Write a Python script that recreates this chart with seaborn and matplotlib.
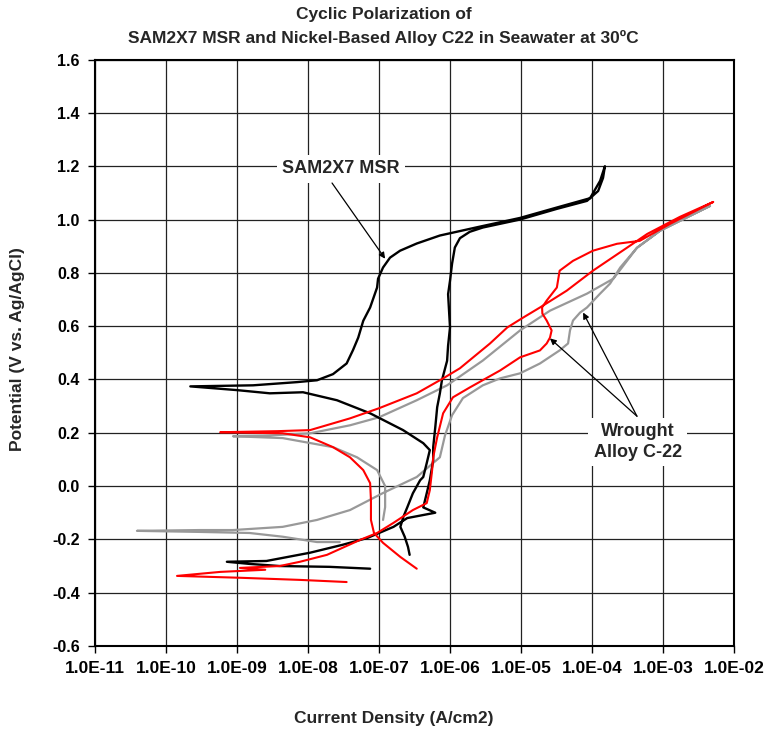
import matplotlib
matplotlib.use("Agg")
import matplotlib.pyplot as plt
import seaborn as sns
from matplotlib.ticker import FixedLocator, FixedFormatter, NullLocator

# ---- SAM2X7 MSR: forward scan then reverse scan (A/cm2, V vs Ag/AgCl) ----
sam_current = [
    7.5e-8, 2.0e-8, 4.0e-9, 1.5e-9, 7.2e-10, 2.6e-9, 1.07e-8, 3.1e-8, 6.8e-8, 1.6e-7,
    2.5e-7, 6.2e-7, 4.2e-7, 4.7e-7, 5.2e-7, 5.8e-7, 5.8e-7, 6.2e-7, 6.6e-7, 7.2e-7,
    7.7e-7, 9.1e-7, 9.4e-7, 1.0e-6, 9.4e-7, 1.0e-6, 1.07e-6, 1.17e-6, 1.38e-6, 1.9e-6,
    2.9e-6, 9.7e-6, 3.2e-5, 8.5e-5, 1.22e-4, 1.43e-4, 1.52e-4,
    1.3e-4, 9.4e-5, 3.5e-5, 9.7e-6, 2.6e-6, 7.2e-7, 3.4e-7, 1.98e-7, 1.43e-7, 1.14e-7,
    9.7e-8, 9.4e-8, 7.5e-8, 6.0e-8, 5.1e-8, 4.3e-8, 3.5e-8, 2.25e-8, 1.34e-8, 7.0e-9,
    1.68e-9, 2.2e-10, 1.0e-9, 2.9e-9, 8.5e-9, 2.56e-8, 7.5e-8, 2.18e-7, 4.2e-7, 5.2e-7,
    4.7e-7, 4.2e-7, 3.8e-7, 3.0e-7, 2.5e-7, 2.2e-7, 2.0e-7, 2.3e-7, 2.56e-7, 2.7e-7,
]
sam_potential = [
    -0.31, -0.303, -0.30, -0.292, -0.284, -0.281, -0.25, -0.22, -0.195, -0.153,
    -0.12, -0.10, -0.08, -0.027, 0.022, 0.097, 0.146, 0.22, 0.296, 0.348,
    0.397, 0.47, 0.527, 0.595, 0.72, 0.77, 0.835, 0.895, 0.93, 0.954,
    0.97, 1.0, 1.04, 1.07, 1.107, 1.156, 1.20,
    1.145, 1.08, 1.048, 1.006, 0.973, 0.94, 0.91, 0.883, 0.857, 0.82,
    0.778, 0.745, 0.67, 0.62, 0.557, 0.51, 0.46, 0.42, 0.397, 0.39,
    0.378, 0.374, 0.36, 0.348, 0.352, 0.322, 0.273, 0.21, 0.161, 0.135,
    0.086, 0.034, 0.022, -0.027, -0.08, -0.116, -0.153, -0.19, -0.228, -0.258,
]

# ---- Wrought Alloy C-22, test 1 (red) ----
c22a_current = [
    3.5e-8, 7.7e-9, 1.1e-9, 1.43e-10, 5.8e-10, 2.5e-9, 1.1e-9, 4.0e-9, 7.7e-9, 1.85e-8,
    5.4e-8, 9.4e-8, 1.6e-7, 3.0e-7, 4.7e-7, 5.2e-7, 5.6e-7, 5.8e-7, 6.6e-7, 8.0e-7,
    1.1e-6, 1.9e-6, 5.1e-6, 9.7e-6, 1.85e-5, 2.3e-5, 2.56e-5, 2.7e-5, 2.3e-5, 2.0e-5,
    1.98e-5, 2.3e-5, 3.2e-5, 3.5e-5, 5.4e-5, 1.03e-4, 2.25e-4, 4.7e-4, 1.26e-3, 5.1e-3,
    1.73e-3, 6.0e-4, 3.1e-4, 1.03e-4, 4.4e-5, 1.85e-5, 1.07e-5, 6.4e-6, 3.66e-6, 1.38e-6,
    8.0e-7, 3.4e-7, 1.0e-7, 3.9e-8, 1.07e-8, 3.7e-9, 5.8e-10, 4.4e-9, 1.07e-8, 2.25e-8,
    3.9e-8, 6.0e-8, 7.5e-8, 7.7e-8, 7.7e-8, 8.5e-8, 1.14e-7, 2.0e-7, 3.4e-7,
]
c22a_potential = [
    -0.36, -0.352, -0.344, -0.337, -0.322, -0.314, -0.307, -0.30, -0.284, -0.258,
    -0.202, -0.176, -0.138, -0.09, -0.064, -0.015, 0.06, 0.108, 0.183, 0.273,
    0.333, 0.37, 0.434, 0.483, 0.509, 0.535, 0.557, 0.584, 0.621, 0.647,
    0.67, 0.696, 0.745, 0.808, 0.845, 0.883, 0.909, 0.92, 0.984, 1.066,
    1.01, 0.946, 0.894, 0.808, 0.733, 0.67, 0.632, 0.595, 0.535, 0.442,
    0.404, 0.348, 0.292, 0.254, 0.21, 0.206, 0.202, 0.198, 0.183, 0.146,
    0.108, 0.06, 0.011, -0.052, -0.127, -0.176, -0.213, -0.266, -0.31,
]

# ---- Wrought Alloy C-22, test 2 (grey) ----
c22b_current = [
    2.8e-8, 1.34e-8, 4.4e-9, 1.5e-9, 3.0e-10, 3.9e-11, 3.0e-10, 8.8e-10, 4.4e-9, 1.34e-8,
    3.9e-8, 1.14e-7, 3.4e-7, 7.2e-7, 8.5e-7, 1.07e-6, 1.52e-6, 2.9e-6, 5.06e-6, 9.7e-6,
    1.85e-5, 3.5e-5, 4.6e-5, 4.9e-5, 5.4e-5, 6.8e-5, 8.5e-5, 1.3e-4, 1.8e-4, 2.5e-4,
    4.3e-4, 9.1e-4, 4.6e-3,
    1.73e-3, 9.1e-4, 4.3e-4, 2.0e-4, 8.5e-5, 2.56e-5, 9.7e-6, 2.9e-6, 9.1e-7, 3.4e-7,
    1.0e-7, 3.9e-8, 1.07e-8, 2.9e-9, 8.8e-10, 4.4e-9, 2.25e-8, 4.9e-8, 9.4e-8, 1.22e-7,
    1.22e-7, 1.14e-7,
]
c22b_potential = [
    -0.21, -0.21, -0.19, -0.176, -0.172, -0.168, -0.165, -0.165, -0.153, -0.127,
    -0.09, -0.026, 0.034, 0.108, 0.19, 0.266, 0.33, 0.378, 0.404, 0.423,
    0.46, 0.509, 0.535, 0.584, 0.621, 0.651, 0.67, 0.722, 0.76, 0.82,
    0.894, 0.958, 1.051,
    0.995, 0.958, 0.894, 0.778, 0.722, 0.658, 0.584, 0.471, 0.378, 0.322,
    0.258, 0.228, 0.198, 0.19, 0.187, 0.18, 0.146, 0.108, 0.06, 0.0,
    -0.079, -0.127,
]

x_ticks = [1e-11, 1e-10, 1e-9, 1e-8, 1e-7, 1e-6, 1e-5, 1e-4, 1e-3, 1e-2]
x_tick_labels = ["1.0E-11", "1.0E-10", "1.0E-09", "1.0E-08", "1.0E-07",
                 "1.0E-06", "1.0E-05", "1.0E-04", "1.0E-03", "1.0E-02"]
y_ticks = [-0.6, -0.4, -0.2, 0.0, 0.2, 0.4, 0.6, 0.8, 1.0, 1.2, 1.4, 1.6]
y_tick_labels = ["-0.6", "-0.4", "-0.2", "0.0", "0.2", "0.4", "0.6",
                 "0.8", "1.0", "1.2", "1.4", "1.6"]

sns.set_style("ticks")
plt.rcParams["font.family"] = ["Liberation Sans", "DejaVu Sans"]
plt.rcParams["font.weight"] = "bold"
plt.rcParams["axes.unicode_minus"] = False

W, H = 767, 733
fig = plt.figure(figsize=(W / 100, H / 100), dpi=100)
left, right, top, bottom = 95, 734, 59.6, 646
ax = fig.add_axes([left / W, 1 - bottom / H, (right - left) / W, (bottom - top) / H])
ax.set_xscale("log")

series = [
    (c22b_current, c22b_potential, "#999999", 1.6),
    (sam_current, sam_potential, "black", 1.7),
    (c22a_current, c22a_potential, "#ff0000", 1.5),
]
for cur, pot, col, lw in series:
    sns.lineplot(x=cur, y=pot, sort=False, estimator=None, color=col,
                 linewidth=lw, ax=ax, legend=False)

ax.set_xlim(1e-11, 1e-2)
ax.set_ylim(-0.6, 1.6)
ax.xaxis.set_major_locator(FixedLocator(x_ticks))
ax.xaxis.set_major_formatter(FixedFormatter(x_tick_labels))
ax.xaxis.set_minor_locator(NullLocator())
ax.yaxis.set_major_locator(FixedLocator(y_ticks))
ax.yaxis.set_major_formatter(FixedFormatter(y_tick_labels))

ax.set_axisbelow(True)
ax.grid(True, which="major", color="#222222", linewidth=0.9)
for sp in ax.spines.values():
    sp.set_visible(True)
    sp.set_color("black")
    sp.set_linewidth(1.5)

ax.tick_params(axis="both", direction="out", length=5, width=1, color="black",
               labelcolor="black")
ax.tick_params(axis="x", labelsize=12.5, pad=6)
ax.tick_params(axis="y", labelsize=11.5, pad=6)

ax.set_xlabel("Current Density (A/cm2)", fontsize=12.5, fontweight="bold")
ax.xaxis.set_label_coords((394 - left) / (right - left), (bottom - 718) / (bottom - top))
ax.set_ylabel("Potential (V vs. Ag/AgCl)", fontsize=12.5, fontweight="bold")
ax.yaxis.set_label_coords((18 - left) / (right - left), (bottom - 349) / (bottom - top))
ax.xaxis.label.set_va("center")
ax.yaxis.label.set_va("center")

fig.text(0.5, 1 - 15 / H, "Cyclic Polarization of", ha="center", va="center",
         fontsize=12.5, fontweight="bold")
fig.text(0.5, 1 - 38 / H, "SAM2X7 MSR and Nickel-Based Alloy C22 in Seawater at 30ºC",
         ha="center", va="center", fontsize=12.5, fontweight="bold")

box = dict(boxstyle="square,pad=0.3", fc="white", ec="none")
arrow = dict(arrowstyle="-|>", color="black", lw=0.9, mutation_scale=9,
             shrinkA=0, shrinkB=0)

ax.text(2.9e-8, 1.19, "SAM2X7 MSR", ha="center", va="center", fontsize=13,
        fontweight="bold", bbox=box, zorder=5)
ax.annotate("", xy=(1.22e-7, 0.853), xytext=(2.18e-8, 1.137), arrowprops=arrow, zorder=6)

ax.text(4.4e-4, 0.165, "Wrought\nAlloy C-22", ha="center", va="center", fontsize=13,
        fontweight="bold", linespacing=1.25, multialignment="center", bbox=box, zorder=5)
ax.annotate("", xy=(2.56e-5, 0.554), xytext=(4.3e-4, 0.262), arrowprops=arrow, zorder=6)
ax.annotate("", xy=(7.5e-5, 0.651), xytext=(4.3e-4, 0.262), arrowprops=arrow, zorder=6)

fig.savefig("out.png", dpi=100)
